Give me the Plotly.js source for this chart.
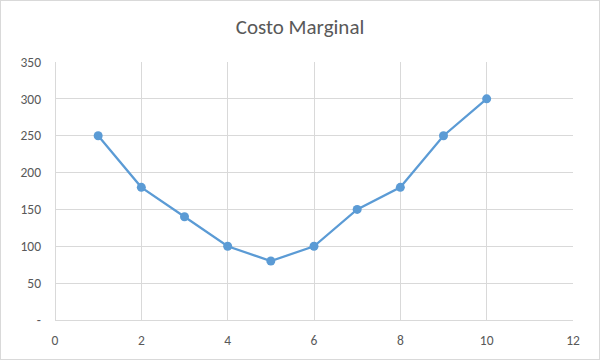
<!DOCTYPE html>
<html>
<head>
<meta charset="utf-8">
<script src="https://cdn.plot.ly/plotly-3.0.1.min.js"></script>
<style>
html,body{margin:0;padding:0;background:#fff;}
#wrap{position:relative;width:600px;height:360px;}
#chart{width:600px;height:360px;}
#frame{position:absolute;left:0;top:0;width:600px;height:360px;box-sizing:border-box;border:1px solid #d9d9d9;pointer-events:none;}
</style>
</head>
<body>
<div id="wrap"><div id="chart"></div><div id="frame"></div></div>
<script>
const xValues = [1, 2, 3, 4, 5, 6, 7, 8, 9, 10];
const costoMarginal = [250, 180, 140, 100, 80, 100, 150, 180, 250, 300];
const yTickVals = [0, 50, 100, 150, 200, 250, 300, 350];
const yTickText = ['-', '50', '100', '150', '200', '250', '300', '350'];
const xTickVals = [0, 2, 4, 6, 8, 10, 12];
const chartTitle = 'Costo Marginal';

const font = 'Calibri, Carlito, "Liberation Sans", "Open Sans", sans-serif';
const trace = {
  x: xValues, y: costoMarginal, type: 'scatter', mode: 'lines+markers',
  line: {color: '#5b9bd5', width: 2.25},
  marker: {color: '#5b9bd5', size: 9},
  cliponaxis: false, hoverinfo: 'skip'
};
const layout = {
  width: 600, height: 360,
  margin: {l: 55, r: 27, t: 62, b: 40},
  paper_bgcolor: '#fff', plot_bgcolor: '#fff',
  showlegend: false,
  title: {text: chartTitle, x: 0.5, xanchor: 'center', y: 0.925, yanchor: 'middle',
          font: {family: font, size: 21, color: '#595959'}},
  xaxis: {range: [0, 12], tickvals: xTickVals, showgrid: true, gridcolor: '#d9d9d9', gridwidth: 1,
          zeroline: true, zerolinecolor: '#d9d9d9', zerolinewidth: 1, showline: false,
          ticks: '', ticklen: 0, ticklabelstandoff: 10,
          tickfont: {family: font, size: 13.5, color: '#595959'}, fixedrange: true},
  yaxis: {range: [0, 350], tickvals: yTickVals, ticktext: yTickText, showgrid: true, gridcolor: '#d9d9d9', gridwidth: 1,
          zeroline: true, zerolinecolor: '#d9d9d9', zerolinewidth: 1, showline: false,
          ticks: '', ticklen: 0, ticklabelstandoff: 13,
          tickfont: {family: font, size: 13.5, color: '#595959'}, fixedrange: true}
};
Plotly.newPlot('chart', [trace], layout, {displayModeBar: false, staticPlot: true});
</script>
</body>
</html>
